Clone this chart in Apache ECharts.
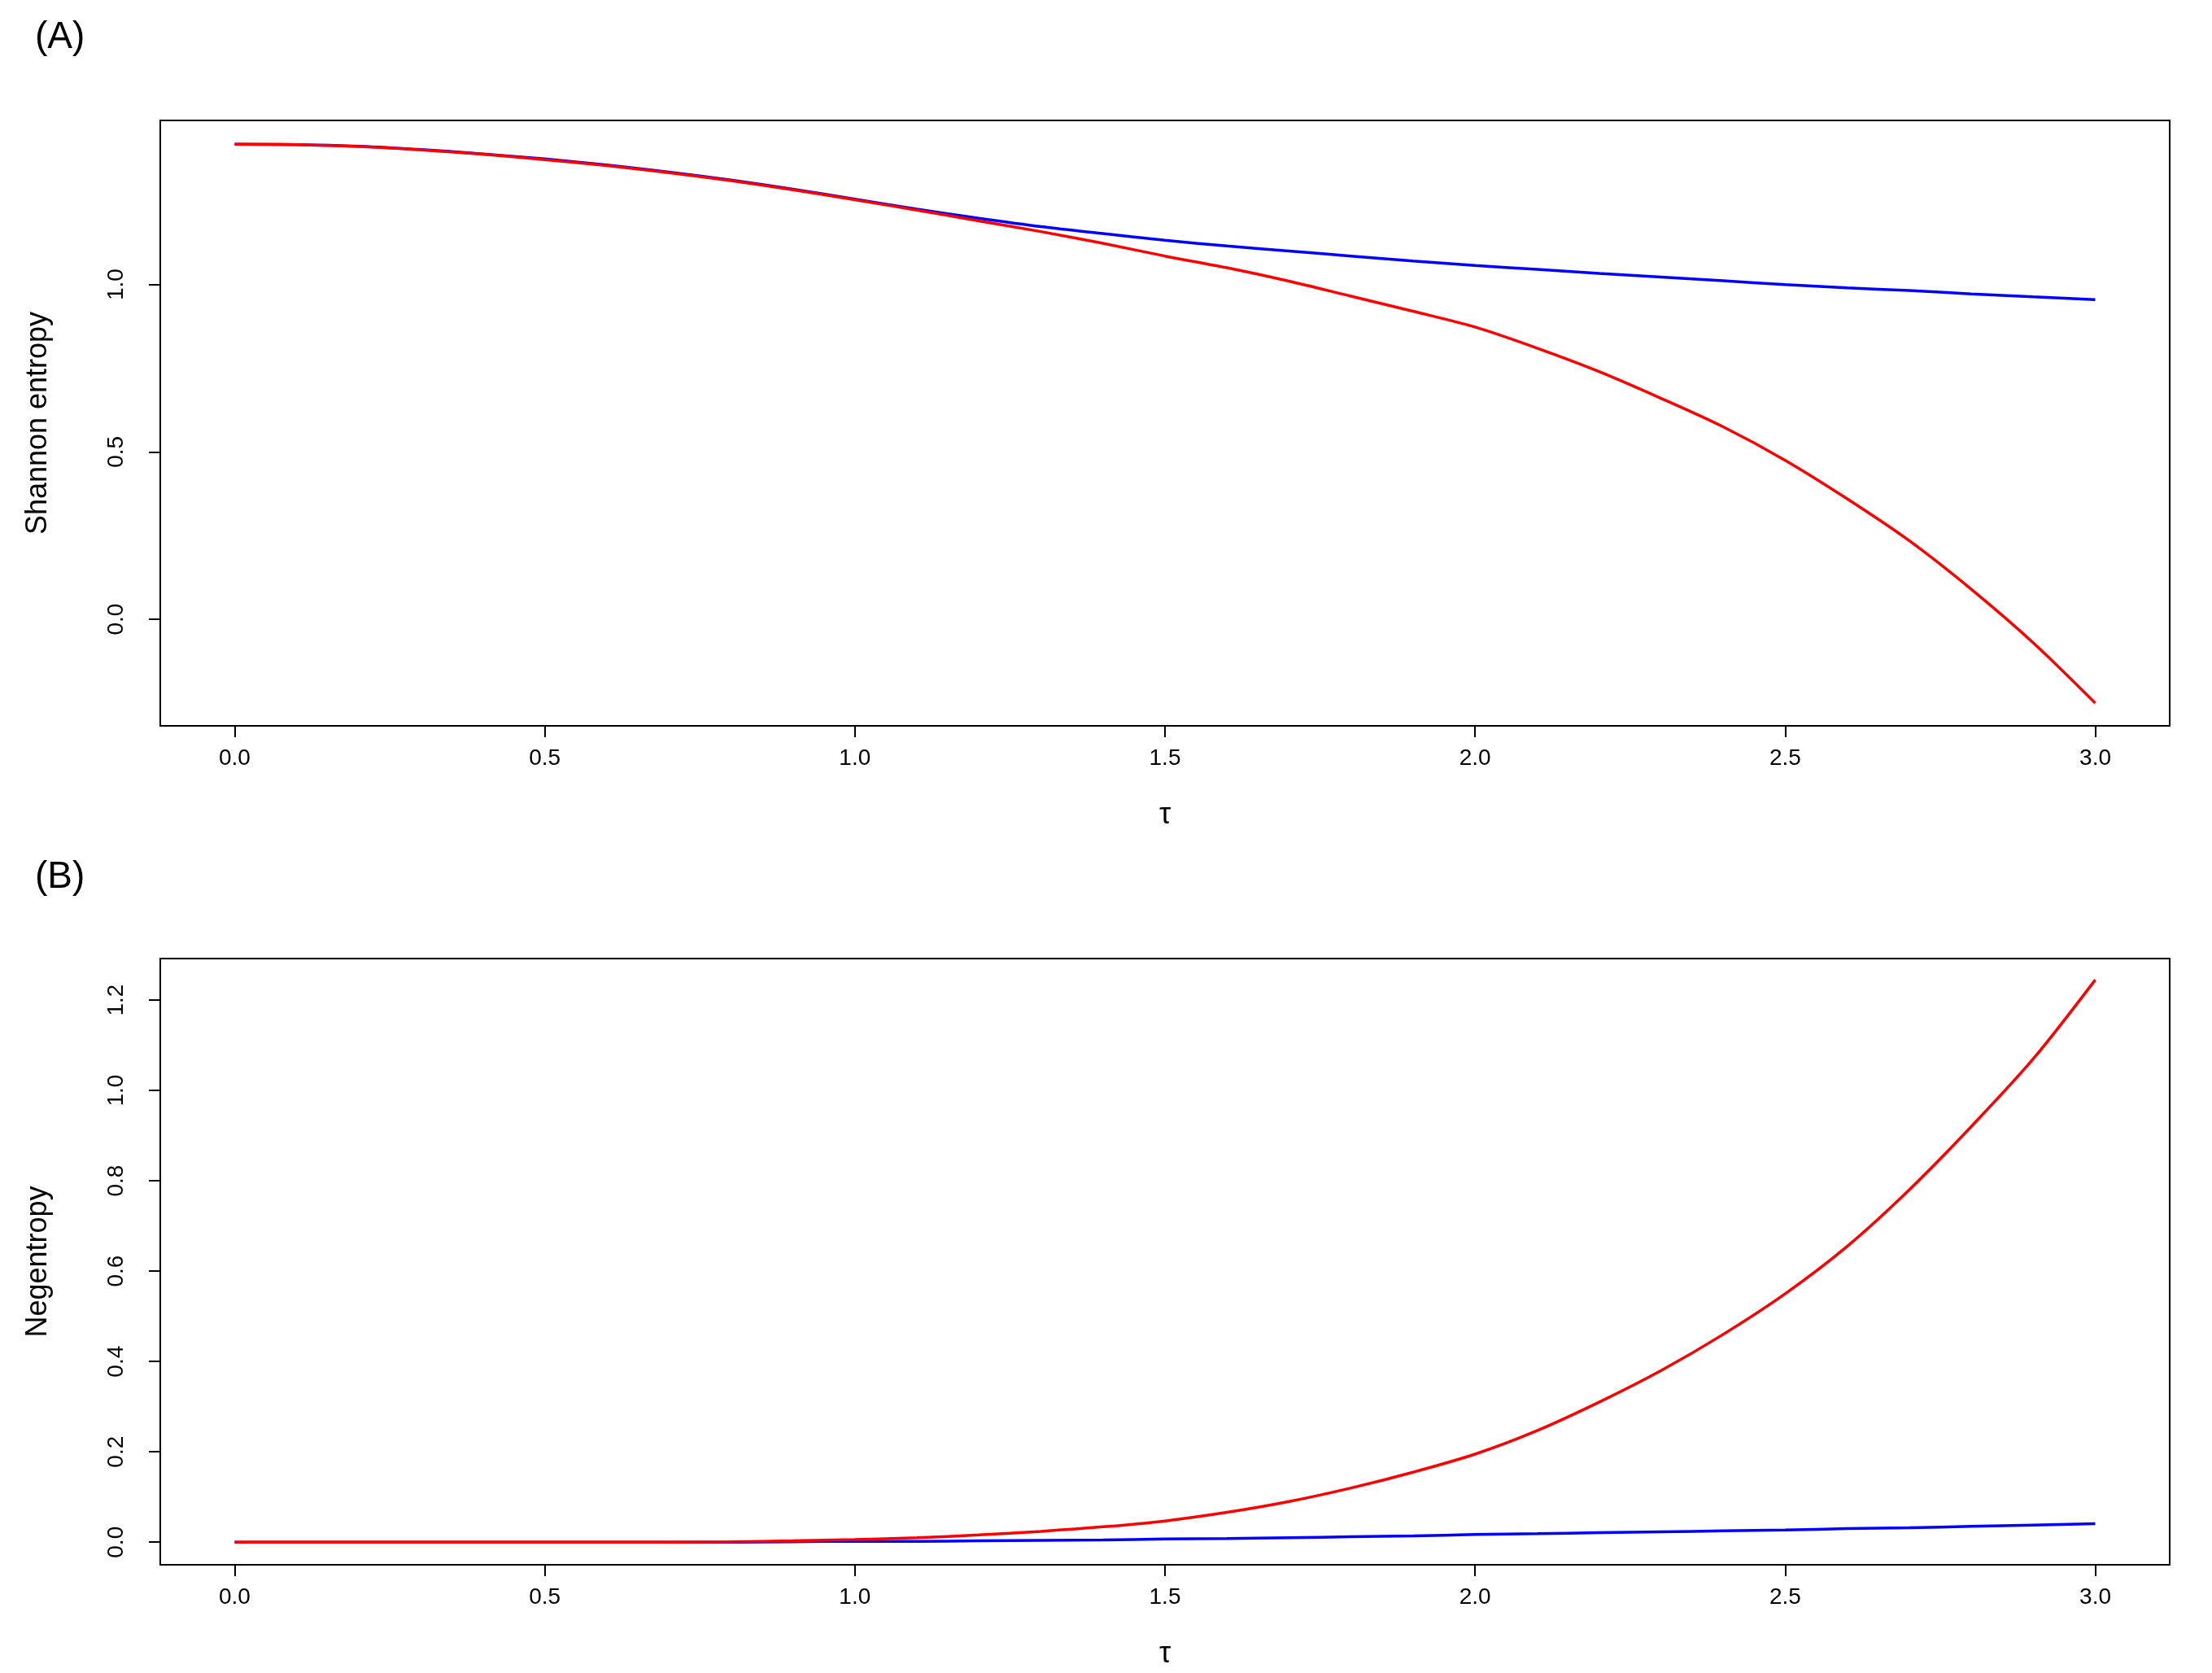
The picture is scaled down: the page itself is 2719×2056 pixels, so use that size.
<!DOCTYPE html>
<html><head><meta charset="utf-8">
<script src="https://cdn.jsdelivr.net/npm/echarts@6/dist/echarts.min.js"></script>
<style>html,body{margin:0;background:#fff}#c{width:2719px;height:2056px}</style>
</head><body><div id="c"></div>
<script>
var tau = [0,0.1,0.2,0.3,0.4,0.5,0.6,0.7,0.8,0.9,1.0,1.1,1.2,1.3,1.4,1.5,1.6,1.7,1.8,1.9,2.0,2.1,2.2,2.3,2.4,2.5,2.6,2.7,2.8,2.9,3.0];
// (A) Shannon entropy
var entRed  = [1.419,1.418,1.412,1.402,1.389,1.373,1.355,1.333,1.307,1.281,1.253,1.222,1.19,1.155,1.118,1.078,1.035,0.99,0.94,0.89,0.873,0.81,0.74,0.66,0.575,0.475,0.36,0.235,0.09,-0.07,-0.25];
entRed = [1.419,1.418,1.412,1.402,1.389,1.373,1.355,1.334,1.31,1.283,1.253,1.222,1.19,1.158,1.123,1.085,1.05,1.01,0.965,0.92,0.873,0.81,0.74,0.66,0.575,0.475,0.36,0.235,0.09,-0.07,-0.25];
var entBlue = [1.419,1.418,1.413,1.403,1.39,1.375,1.357,1.336,1.312,1.285,1.255,1.225,1.198,1.173,1.152,1.132,1.115,1.1,1.085,1.07,1.057,1.045,1.033,1.022,1.011,1.0,0.99,0.982,0.972,0.963,0.955];
// (B) Negentropy
var negRed  = [0,0,0,0,0,0,0,0,0.001,0.003,0.006,0.01,0.016,0.024,0.034,0.047,0.066,0.09,0.12,0.155,0.195,0.247,0.31,0.38,0.46,0.55,0.655,0.78,0.92,1.07,1.245];
var negBlue = [0,0,0,0,0,0,0,0,0,0.001,0.002,0.002,0.003,0.004,0.005,0.007,0.008,0.01,0.012,0.014,0.017,0.019,0.021,0.023,0.025,0.027,0.03,0.032,0.035,0.038,0.041];
var xTicks = [0,0.5,1,1.5,2,2.5,3];
var yTicksA = [0,0.5,1];
var yTicksB = [0,0.2,0.4,0.6,0.8,1.0,1.2];

function pairs(ys){ return tau.map(function(t,i){return [t, ys[i]];}); }
var font = 'Liberation Sans, Arial, sans-serif';
function xAxis(idx){
  return {type:'value', gridIndex:idx, min:-0.12, max:3.12, name:'τ', nameLocation:'middle', nameGap:92,
    nameTextStyle:{fontSize:36,color:'#000',fontFamily:font},
    axisLine:{show:false, onZero:false}, splitLine:{show:false},
    axisTick:{show:true, inside:false, customValues:xTicks, length:14, lineStyle:{color:'#000',width:2}},
    axisLabel:{customValues:xTicks, fontSize:28, color:'#000', margin:26, fontFamily:font,
      formatter:function(v){return v.toFixed(1);}}};
}
function yAxis(idx,min,max,ticks,name){
  return {type:'value', gridIndex:idx, min:min, max:max, name:name, nameLocation:'middle', nameGap:132,
    nameTextStyle:{fontSize:36,color:'#000',fontFamily:font},
    axisLine:{show:false, onZero:false}, splitLine:{show:false},
    axisTick:{show:true, inside:false, customValues:ticks, length:14, lineStyle:{color:'#000',width:2}},
    axisLabel:{customValues:ticks, fontSize:28, color:'#000', margin:40, rotate:90, fontFamily:font,
      formatter:function(v){return v.toFixed(1);}}};
}
function line(idx,data,color){
  return {type:'line', xAxisIndex:idx, yAxisIndex:idx, data:pairs(data), showSymbol:false, smooth:0.3,
    lineStyle:{color:color,width:3.5}, itemStyle:{color:color}, animation:false};
}
var chart = echarts.init(document.getElementById('c'));
chart.setOption({
  backgroundColor:'#fff',
  title:[{text:'(A)', left:38, top:18, textStyle:{fontSize:46,fontWeight:'normal',color:'#000',fontFamily:font}},
         {text:'(B)', left:38, top:1050, textStyle:{fontSize:46,fontWeight:'normal',color:'#000',fontFamily:font}}],
  grid:[{left:197, width:2470, top:148, height:744, show:true, borderColor:'#000', borderWidth:2},
        {left:197, width:2470, top:1178, height:745, show:true, borderColor:'#000', borderWidth:2}],
  xAxis:[xAxis(0), xAxis(1)],
  yAxis:[yAxis(0,-0.318,1.49,yTicksA,'Shannon entropy'), yAxis(1,-0.05,1.292,yTicksB,'Negentropy')],
  series:[line(0,entBlue,'#0000ff'), line(0,entRed,'#ff0000'), line(1,negBlue,'#0000ff'), line(1,negRed,'#ff0000')]
});
</script></body></html>
